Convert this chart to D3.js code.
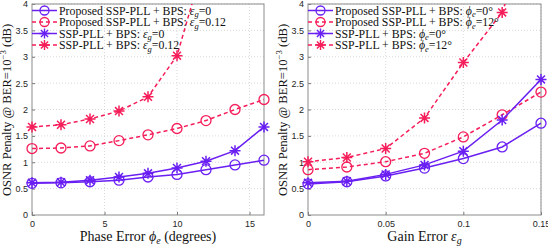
<!DOCTYPE html>
<html>
<head>
<meta charset="UTF-8">
<script src="https://d3js.org/d3.v7.min.js"></script>
<style>
  body { margin: 0; background: #fff; }
  .tick-label { font-family: "Liberation Sans", Arial, sans-serif; font-size: 9px; fill: #262626; }
  .serif { font-family: "Liberation Serif", "Times New Roman", serif; fill: #111; }
</style>
</head>
<body>
<svg id="chart" width="548" height="246"></svg>
<script>
// data
const phaseErr = [0, 2, 4, 6, 8, 10, 12, 14, 16];
const propEg0 = [0.60, 0.61, 0.63, 0.66, 0.72, 0.77, 0.86, 0.95, 1.04];
const propEg012 = [1.26, 1.27, 1.31, 1.41, 1.52, 1.64, 1.79, 2.00, 2.19];
const sspEg0 = [0.61, 0.62, 0.66, 0.72, 0.79, 0.89, 1.02, 1.22, 1.67];
const sspEg012 = [1.67, 1.71, 1.82, 1.97, 2.24, 3.02, 4.92, 7.0, 10.0];

const gainErr = [0, 0.025, 0.05, 0.075, 0.1, 0.125, 0.15];
const propPhi0 = [0.59, 0.63, 0.74, 0.89, 1.07, 1.29, 1.74];
const propPhi12 = [0.86, 0.91, 1.01, 1.17, 1.48, 1.90, 2.33];
const sspPhi0 = [0.61, 0.64, 0.77, 0.95, 1.21, 1.80, 2.57];
const sspPhi12 = [1.01, 1.09, 1.26, 1.84, 2.89, 3.84, 6.0];

const yTicks = [0, 0.5, 1, 1.5, 2, 2.5, 3, 3.5, 4];
const xTicksL = [0, 5, 10, 15];
const xTicksR = [0, 0.05, 0.1, 0.15];

const blue = "#6a1ff2", red = "#f51d5a";
const svg = d3.select("#chart");

function starPath(r) {
  const d = r * 0.72;
  return `M${-r},0L${r},0M0,${-r}L0,${r}M${-d},${-d}L${d},${d}M${-d},${d}L${d},${-d}`;
}

function drawPanel(cfg) {
  const x = d3.scaleLinear().domain(cfg.xDomain).range([cfg.x0, cfg.x1]);
  const y = d3.scaleLinear().domain([0, 4]).range([215, 4]);
  const g = svg.append("g");

  // grid
  g.selectAll(".gx").data(cfg.xTicks.slice(1)).enter().append("line")
    .attr("x1", d => x(d)).attr("x2", d => x(d)).attr("y1", 215).attr("y2", 4)
    .attr("stroke", "#cfcfcf").attr("stroke-width", 0.8).attr("stroke-dasharray", "1,2");
  g.selectAll(".gy").data(yTicks.slice(1)).enter().append("line")
    .attr("x1", cfg.x0).attr("x2", cfg.x1).attr("y1", d => y(d)).attr("y2", d => y(d))
    .attr("stroke", "#cfcfcf").attr("stroke-width", 0.8).attr("stroke-dasharray", "1,2");

  // axes with d3
  const ax = g.append("g").attr("transform", "translate(0,215)")
    .call(d3.axisBottom(x).tickValues(cfg.xTicks).tickSize(-3).tickPadding(6).tickFormat(d3.format("")));
  const ay = g.append("g").attr("transform", `translate(${cfg.x0},0)`)
    .call(d3.axisLeft(y).tickValues(yTicks).tickSize(-3).tickPadding(4).tickFormat(d3.format("")));
  [ax, ay].forEach(a => {
    a.select(".domain").remove();
    a.selectAll("line").attr("stroke", "#777");
    a.selectAll("text").attr("class", "tick-label").attr("fill", "#262626");
  });

  // box
  g.append("rect").attr("x", cfg.x0).attr("y", 4).attr("width", cfg.x1 - cfg.x0).attr("height", 211)
    .attr("fill", "none").attr("stroke", "#8c8c8c").attr("stroke-width", 1);

  const clipId = "clip" + cfg.id;
  svg.append("clipPath").attr("id", clipId).append("rect")
    .attr("x", cfg.x0 - 6).attr("y", 4).attr("width", cfg.x1 - cfg.x0 + 12).attr("height", 217);
  const plot = g.append("g").attr("clip-path", `url(#${clipId})`);

  // legend (transparent)
  const leg = g.append("g");
  cfg.series.forEach((s, i) => {
    const ly = 10.5 + i * 11.5;
    leg.append("line").attr("x1", cfg.x0).attr("x2", cfg.x0 + 25).attr("y1", ly).attr("y2", ly)
      .attr("stroke", s.color).attr("stroke-width", 1.5).attr("stroke-dasharray", s.dash ? "4,3" : null);
    if (s.marker === "o") {
      leg.append("circle").attr("cx", cfg.x0 + 12.5).attr("cy", ly).attr("r", 4.5)
        .attr("fill", "none").attr("stroke", s.color).attr("stroke-width", 1.3);
    } else {
      leg.append("path").attr("transform", `translate(${cfg.x0 + 12.5},${ly})`).attr("d", starPath(5))
        .attr("stroke", s.color).attr("stroke-width", 1.4);
    }
    const t = leg.append("text").attr("class", "serif").attr("x", cfg.x0 + 27).attr("y", ly + 4)
      .attr("font-size", 11.8);
    t.append("tspan").text(s.label);
    t.append("tspan").attr("font-style", "italic").text(s.sym);
    t.append("tspan").attr("font-style", "italic").attr("font-size", 8.5).attr("dy", 2.5).text(s.sub);
    t.append("tspan").attr("dy", -2.5).text("=" + s.val);
  });

  // series
  cfg.series.forEach(s => {
    const pts = cfg.xs.map((xv, i) => [x(xv), y(s.values[i])]);
    plot.append("path").attr("d", d3.line()(pts)).attr("fill", "none")
      .attr("stroke", s.color).attr("stroke-width", 1.5).attr("stroke-dasharray", s.dash ? "4,3" : null);
    if (s.marker === "o") {
      plot.selectAll(null).data(pts).enter().append("circle")
        .attr("cx", d => d[0]).attr("cy", d => d[1]).attr("r", 5)
        .attr("fill", "none").attr("stroke", s.color).attr("stroke-width", 1.3);
    } else {
      plot.selectAll(null).data(pts).enter().append("path")
        .attr("transform", d => `translate(${d[0]},${d[1]})`).attr("d", starPath(5.5))
        .attr("stroke", s.color).attr("stroke-width", 1.5);
    }
  });

  // x label
  const xl = g.append("text").attr("class", "serif").attr("x", (cfg.x0 + cfg.x1) / 2).attr("y", 241)
    .attr("text-anchor", "middle").attr("font-size", 14);
  xl.append("tspan").text(cfg.xLabel[0]);
  xl.append("tspan").attr("font-style", "italic").text(cfg.xLabel[1]);
  xl.append("tspan").attr("font-style", "italic").attr("font-size", 10).attr("dy", 3).text(cfg.xLabel[2]);
  xl.append("tspan").attr("dy", -3).text(cfg.xLabel[3]);

  // y label
  const yl = g.append("text").attr("class", "serif")
    .attr("transform", `translate(${cfg.x0 - 21.5},110) rotate(-90)`)
    .attr("text-anchor", "middle").attr("font-size", 12.6);
  yl.append("tspan").text("OSNR Penalty @ BER=10");
  yl.append("tspan").attr("font-size", 8.8).attr("dy", -5).text("−3");
  yl.append("tspan").attr("dy", 5).text(" (dB)");
}

drawPanel({
  id: "L", x0: 32, x1: 264, xDomain: [0, 16], xTicks: xTicksL, xs: phaseErr,
  xLabel: ["Phase Error ", "ϕ", "e", " (degrees)"],
  series: [
    { values: propEg0, color: blue, dash: false, marker: "o", label: "Proposed SSP-PLL + BPS: ", sym: "ε", sub: "g", val: "0" },
    { values: propEg012, color: red, dash: true, marker: "o", label: "Proposed SSP-PLL + BPS: ", sym: "ε", sub: "g", val: "0.12" },
    { values: sspEg0, color: blue, dash: false, marker: "*", label: "SSP-PLL + BPS: ", sym: "ε", sub: "g", val: "0" },
    { values: sspEg012, color: red, dash: true, marker: "*", label: "SSP-PLL + BPS: ", sym: "ε", sub: "g", val: "0.12" }
  ]
});

drawPanel({
  id: "R", x0: 308, x1: 541, xDomain: [0, 0.15], xTicks: xTicksR, xs: gainErr,
  xLabel: ["Gain Error ", "ε", "g", ""],
  series: [
    { values: propPhi0, color: blue, dash: false, marker: "o", label: "Proposed SSP-PLL + BPS: ", sym: "ϕ", sub: "e", val: "0°" },
    { values: propPhi12, color: red, dash: true, marker: "o", label: "Proposed SSP-PLL + BPS: ", sym: "ϕ", sub: "e", val: "12°" },
    { values: sspPhi0, color: blue, dash: false, marker: "*", label: "SSP-PLL + BPS: ", sym: "ϕ", sub: "e", val: "0°" },
    { values: sspPhi12, color: red, dash: true, marker: "*", label: "SSP-PLL + BPS: ", sym: "ϕ", sub: "e", val: "12°" }
  ]
});
</script>
</body>
</html>
